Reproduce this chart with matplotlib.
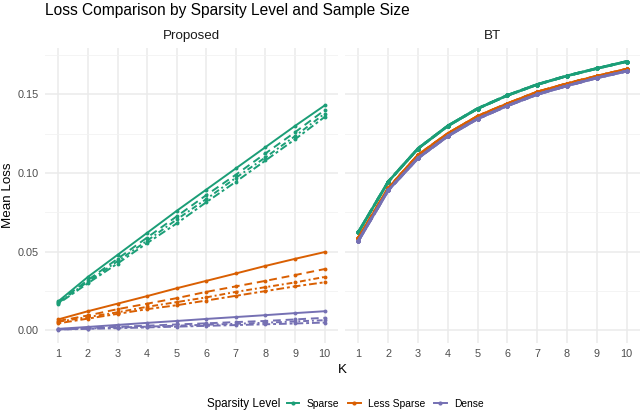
import matplotlib.pyplot as plt
import numpy as np
from matplotlib.lines import Line2D

plt.rcParams['font.family'] = ['Liberation Sans', 'DejaVu Sans']

K = np.arange(1, 11)
levels = ["Sparse", "Less Sparse", "Dense"]
colors = {"Sparse": "#1B9E77", "Less Sparse": "#D95F02", "Dense": "#7570B3"}

# proposed method, one row per sample size (smallest -> largest)
proposed_sparse = [
    [0.0185, 0.0340, 0.0480, 0.0620, 0.0760, 0.0895, 0.1030, 0.1165, 0.1300, 0.1430],
    [0.0180, 0.0320, 0.0455, 0.0590, 0.0725, 0.0860, 0.0990, 0.1125, 0.1260, 0.1400],
    [0.0175, 0.0310, 0.0440, 0.0570, 0.0705, 0.0835, 0.0970, 0.1100, 0.1235, 0.1378],
    [0.0170, 0.0300, 0.0425, 0.0555, 0.0680, 0.0815, 0.0945, 0.1080, 0.1215, 0.1357],
]
proposed_less = [
    [0.0070, 0.0122, 0.0170, 0.0218, 0.0268, 0.0315, 0.0362, 0.0410, 0.0455, 0.0498],
    [0.0060, 0.0095, 0.0135, 0.0170, 0.0205, 0.0245, 0.0280, 0.0315, 0.0352, 0.0390],
    [0.0055, 0.0085, 0.0115, 0.0150, 0.0180, 0.0210, 0.0245, 0.0275, 0.0305, 0.0340],
    [0.0045, 0.0075, 0.0105, 0.0135, 0.0160, 0.0190, 0.0220, 0.0250, 0.0280, 0.0306],
]
proposed_dense = [
    [0.0010, 0.0022, 0.0035, 0.0048, 0.0060, 0.0073, 0.0085, 0.0097, 0.0110, 0.0122],
    [0.0008, 0.0015, 0.0023, 0.0030, 0.0038, 0.0045, 0.0053, 0.0060, 0.0070, 0.0080],
    [0.0006, 0.0012, 0.0018, 0.0024, 0.0030, 0.0036, 0.0042, 0.0049, 0.0057, 0.0065],
    [0.0005, 0.0010, 0.0014, 0.0019, 0.0024, 0.0029, 0.0034, 0.0039, 0.0044, 0.0050],
]

# BT curves, sample sizes overlap almost exactly
bt_sparse = [0.0625, 0.0945, 0.1156, 0.1300, 0.1410, 0.1494, 0.1563, 0.1618, 0.1665, 0.1709]
bt_less = [0.0587, 0.0903, 0.1114, 0.1251, 0.1361, 0.1441, 0.1515, 0.1568, 0.1616, 0.1660]
bt_dense = [0.0570, 0.0890, 0.1095, 0.1235, 0.1345, 0.1428, 0.1500, 0.1555, 0.1605, 0.1648]

proposed = {"Sparse": proposed_sparse, "Less Sparse": proposed_less, "Dense": proposed_dense}
bt = {"Sparse": bt_sparse, "Less Sparse": bt_less, "Dense": bt_dense}

linestyles = ["-", (0, (4, 2.5)), (0, (3, 1.5, 1, 1.5)), (0, (1.5, 1.5, 4, 1.5))]

W, H = 640, 412
fig = plt.figure(figsize=(W / 100, H / 100), dpi=100)
ax1 = fig.add_axes([45 / W, 69 / H, 293 / W, 295 / H])
ax2 = fig.add_axes([345 / W, 69 / H, 295 / W, 295 / H], sharey=ax1)

for ax in (ax1, ax2):
    ax.set_xlim(0.55, 10.45)
    ax.set_ylim(-0.008, 0.1795)
    ax.set_xticks(K)
    ax.set_yticks([0.0, 0.05, 0.10, 0.15])
    ax.set_yticks([0.025, 0.075, 0.125, 0.175], minor=True)
    ax.grid(which='major', color='#EBEBEB', lw=1.1)
    ax.grid(which='minor', axis='y', color='#F2F2F2', lw=0.6)
    ax.set_axisbelow(True)
    for s in ax.spines.values():
        s.set_visible(False)
    ax.tick_params(which='both', length=0, labelsize=7.8, labelcolor='#4D4D4D', pad=4.5)

ax1.set_yticklabels(["0.00", "0.05", "0.10", "0.15"])
ax2.tick_params(labelleft=False)

for lev in levels:
    for i, vals in enumerate(proposed[lev]):
        ax1.plot(K, vals, color=colors[lev], ls=linestyles[i], lw=1.4,
                 marker='o', ms=2.8, mew=0)
    for i in range(4):
        ax2.plot(K, bt[lev], color=colors[lev], ls=linestyles[i], lw=1.9,
                 marker='o', ms=3.2, mew=0)

for ax, name in ((ax1, "Proposed"), (ax2, "BT")):
    ax.text(0.5, 1 + 12 / 295, name, transform=ax.transAxes, ha='center', va='center',
            fontsize=9.6, color='#1A1A1A')

fig.text(45 / W, 1 - 11 / H, "Loss Comparison by Sparsity Level and Sample Size",
         ha='left', va='center', fontsize=11.2, color='black')
fig.text(8 / W, 1 - 195.5 / H, "Mean Loss", rotation=90, ha='center', va='center',
         fontsize=9.6, color='black')
fig.text(342 / W, 1 - 370 / H, "K", ha='center', va='center', fontsize=9.6, color='black')

fig.text(207 / W, 1 - 404 / H, "Sparsity Level", ha='left', va='center',
         fontsize=8.4, color='black')
handles = [Line2D([0], [0], color=colors[lev], lw=1.4, marker='o', ms=3, mew=0) for lev in levels]
fig.legend(handles, levels, loc='center left', bbox_to_anchor=(287 / W, 1 - 404 / H), ncol=3,
           frameon=False, fontsize=7.4, handlelength=1.2, handletextpad=0.7,
           columnspacing=0.9, borderpad=0, borderaxespad=0)

fig.savefig("out.png", dpi=100, facecolor='white')
